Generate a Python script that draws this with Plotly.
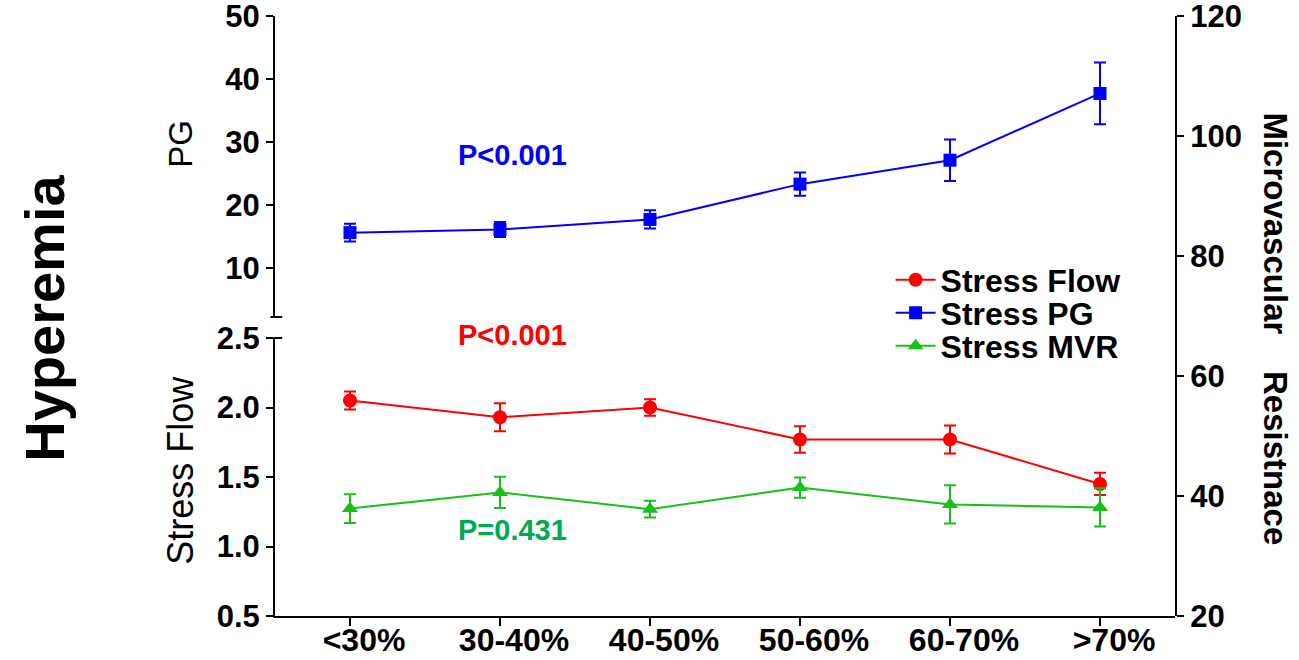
import plotly.graph_objects as go

categories = ["<30%", "30-40%", "40-50%", "50-60%", "60-70%", ">70%"]

flow = [2.05, 1.93, 2.00, 1.77, 1.77, 1.45]
flow_err = [0.065, 0.10, 0.06, 0.095, 0.10, 0.08]

pg = [15.6, 16.1, 17.7, 23.3, 27.1, 37.7]
pg_err = [1.4, 1.2, 1.45, 1.85, 3.3, 4.9]

mvr = [37.9, 40.6, 37.8, 41.4, 38.6, 38.1]
mvr_err = [2.4, 2.6, 1.4, 1.7, 3.2, 3.2]

FONT = "Liberation Sans, Arial, sans-serif"
RED = "#FF0000"
BLUE = "#0000FF"
GREEN = "#18C018"
PGREEN = "#00AA50"

fig = go.Figure()

fig.add_trace(go.Scatter(
    x=categories, y=flow, name="Stress Flow", mode="lines+markers",
    line=dict(color=RED, width=2),
    marker=dict(symbol="circle", size=14, color=RED),
    error_y=dict(type="data", array=flow_err, color=RED, thickness=2, width=6),
    xaxis="x", yaxis="y", legend="legend"))

fig.add_trace(go.Scatter(
    x=categories, y=pg, name="Stress PG", mode="lines+markers",
    line=dict(color=BLUE, width=2),
    marker=dict(symbol="square", size=13, color=BLUE),
    error_y=dict(type="data", array=pg_err, color=BLUE, thickness=2, width=6),
    xaxis="x", yaxis="y2", legend="legend2"))

fig.add_trace(go.Scatter(
    x=categories, y=mvr, name="Stress MVR", mode="lines+markers",
    line=dict(color=GREEN, width=2),
    marker=dict(symbol="triangle-up", size=14, color=GREEN),
    error_y=dict(type="data", array=mvr_err, color=GREEN, thickness=2, width=6),
    xaxis="x", yaxis="y3", legend="legend3"))

axis_common = dict(showgrid=False, zeroline=False, showline=True, automargin=False,
                   linecolor="black", linewidth=2, ticks="outside",
                   ticklen=7, tickwidth=2, tickcolor="black",
                   ticklabeloverflow="allow",
                   tickfont=dict(family=FONT, size=31, color="black", weight="bold"))

legend_common = dict(xanchor="left", yanchor="middle", x=0.684,
                     bgcolor="rgba(0,0,0,0)", borderwidth=0, itemwidth=40,
                     font=dict(family=FONT, size=32, color="black", weight="bold"))

fig.update_layout(
    template="none",
    width=1299, height=660,
    margin=dict(l=275, r=124, t=16, b=44, autoexpand=False),
    paper_bgcolor="white", plot_bgcolor="rgba(0,0,0,0)",
    showlegend=True,
    legend=dict(y=(616 - 280) / 600, **legend_common),
    legend2=dict(y=(616 - 313) / 600, **legend_common),
    legend3=dict(y=(616 - 346) / 600, **legend_common),
    xaxis=dict(domain=[0, 1], anchor="y", range=[-0.5, 5.5], automargin=False,
               showgrid=False, zeroline=False, showline=True,
               linecolor="black", linewidth=2, ticks="outside",
               ticklen=8, tickwidth=2, tickcolor="black",
               ticklabeloverflow="allow", ticklabelstandoff=-13, ticklabelshift=14,
               tickfont=dict(family=FONT, size=32, color="black", weight="bold")),
    yaxis=dict(domain=[0, 0.4633], anchor="x", range=[0.5, 2.5],
               tickvals=[0.5, 1.0, 1.5, 2.0, 2.5], tickformat=".1f",
               **axis_common),
    yaxis2=dict(domain=[0.4983, 1], anchor="x", range=[2.2, 50],
                tickvals=[10, 20, 30, 40, 50], **axis_common),
    yaxis3=dict(domain=[0, 1], anchor="x", side="right", range=[20, 120],
                tickvals=[20, 40, 60, 80, 100, 120], **axis_common),
)

# axis-break stubs
fig.add_shape(type="line", xref="paper", yref="paper",
              x0=-0.005, x1=0.008, y0=0.4983, y1=0.4983,
              line=dict(color="black", width=2))
fig.add_shape(type="line", xref="paper", yref="paper",
              x0=-0.002, x1=0.008, y0=0.4633, y1=0.4633,
              line=dict(color="black", width=2))

annotations = [
    dict(text="P<0.001", x=0.264, y=0.768, color=BLUE),
    dict(text="P<0.001", x=0.264, y=0.468, color=RED),
    dict(text="P=0.431", x=0.264, y=0.143, color=PGREEN),
]
for a in annotations:
    fig.add_annotation(text=a["text"], x=a["x"], y=a["y"], xref="paper", yref="paper",
                       showarrow=False, xanchor="center", yanchor="middle",
                       font=dict(family=FONT, size=29, color=a["color"], weight="bold"))

fig.add_annotation(text="PG", x=-0.1044, y=0.787, xref="paper", yref="paper",
                   showarrow=False, textangle=-90, xanchor="center", yanchor="middle",
                   font=dict(family=FONT, size=33, color="black"))
fig.add_annotation(text="Stress Flow", x=-0.1044, y=0.242, xref="paper", yref="paper",
                   showarrow=False, textangle=-90, xanchor="center", yanchor="middle",
                   font=dict(family=FONT, size=36, color="black"))
fig.add_annotation(text="Hyperemia", x=-0.2556, y=0.497, xref="paper", yref="paper",
                   showarrow=False, textangle=-90, xanchor="center", yanchor="middle",
                   font=dict(family=FONT, size=56, color="black", weight="bold"))
fig.add_annotation(text="Microvascular\u00a0\u00a0\u00a0\u00a0Resistnace", x=1.112, y=0.478,
                   xref="paper", yref="paper",
                   showarrow=False, textangle=90, xanchor="center", yanchor="middle",
                   font=dict(family=FONT, size=33, color="black", weight="bold"))

fig.write_html("out.html", config={"displayModeBar": False},
               post_script="document.body.style.margin='0px';")
